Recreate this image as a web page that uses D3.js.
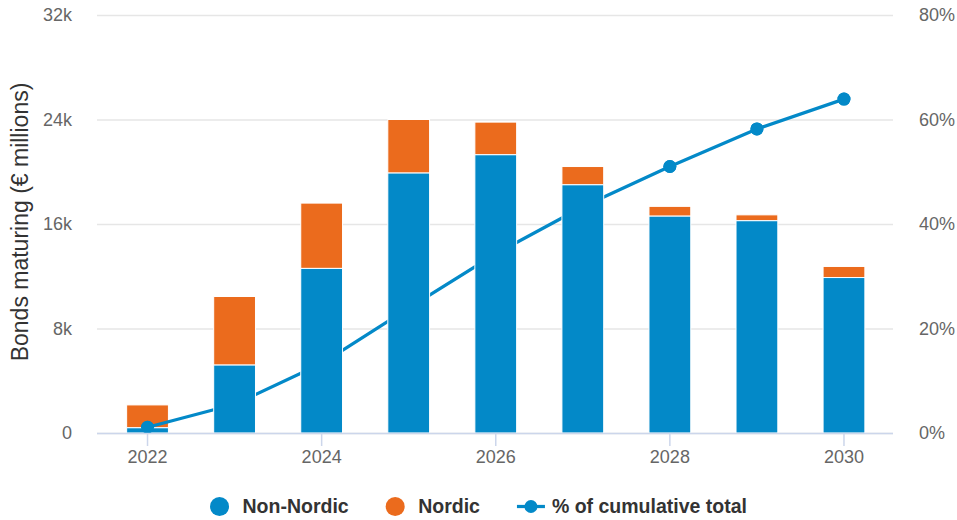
<!DOCTYPE html>
<html>
<head>
<meta charset="utf-8">
<script src="https://cdn.jsdelivr.net/npm/d3@7"></script>
<style>
  body { margin: 0; background: #fff; }
  text { font-family: "Liberation Sans", Arial, sans-serif; }
</style>
</head>
<body>
<div id="container"></div>
<script>
/* DATA */
const years = ["2022", "2023", "2024", "2025", "2026", "2027", "2028", "2029", "2030"];
// € millions
const nonNordic = [400, 5200, 12600, 19900, 21300, 19000, 16600, 16250, 11900];
const nordic = [1750, 5250, 5000, 4100, 2500, 1400, 750, 450, 850];
// % of cumulative total
const cumulativePct = [1.1, 5.5, 13.3, 23.9, 34.3, 43.3, 51.0, 58.2, 63.9];
const leftTicks = [0, 8000, 16000, 24000, 32000];
const rightTicks = [0, 20, 40, 60, 80];
const xTickYears = ["2022", "2024", "2026", "2028", "2030"];
const seriesNames = ["Non-Nordic", "Nordic", "% of cumulative total"];

/* CONSTANTS */
const width = 957;
const height = 520;
const plotLeft = 97, plotRight = 893, plotTop = 15, plotBottom = 433;
const blue = "#0389c8";
const orange = "#eb6b1d";

const svg = d3.select("#container")
  .append("svg")
  .attr("width", width)
  .attr("height", height)

const table = years.map((y, i) => ({ year: y, nonNordic: nonNordic[i], nordic: nordic[i], pct: cumulativePct[i] }))
const stacked = d3.stack().keys(["nonNordic", "nordic"])(table)

/* SCALES */
const xScale = d3.scaleBand()
  .domain(years)
  .range([104, 887.5])
  .paddingInner(0.52)
  .paddingOuter(0.26)

const yScale = d3.scaleLinear()
  .domain([0, 32000])
  .range([plotBottom, plotTop])

const yRight = d3.scaleLinear()
  .domain([0, 80])
  .range([plotBottom, plotTop])

const cx = d => xScale(d) + xScale.bandwidth() / 2

/* GRIDLINES + LEFT AXIS */
const leftAxis = svg.append("g")
  .attr("transform", `translate(${plotLeft},0)`)
  .call(d3.axisLeft(yScale)
    .tickValues(leftTicks)
    .tickSize(-(plotRight - plotLeft))
    .tickPadding(25)
    .tickFormat(d => d === 0 ? "0" : (d / 1000) + "k"))
leftAxis.select(".domain").remove()
leftAxis.selectAll("line").attr("stroke", "#e6e6e6").attr("stroke-width", 1.5)
leftAxis.selectAll("text").attr("fill", "#666").attr("font-size", 18).attr("font-family", "Liberation Sans, Arial, sans-serif")

const rightAxis = svg.append("g")
  .attr("transform", `translate(${plotRight},0)`)
  .call(d3.axisRight(yRight)
    .tickValues(rightTicks)
    .tickSize(0)
    .tickPadding(26)
    .tickFormat(d => d + "%"))
rightAxis.select(".domain").remove()
rightAxis.selectAll("text").attr("fill", "#666").attr("font-size", 18).attr("font-family", "Liberation Sans, Arial, sans-serif")

/* BOTTOM AXIS */
const xAxis = svg.append("g")
  .attr("transform", `translate(0,${plotBottom})`)
  .call(d3.axisBottom(xScale).tickValues(xTickYears).tickSize(13).tickPadding(4))
xAxis.select(".domain").remove()
xAxis.selectAll("line").attr("stroke", "#ccd6eb").attr("stroke-width", 1.5)
xAxis.selectAll("text").attr("fill", "#666").attr("font-size", 18).attr("font-family", "Liberation Sans, Arial, sans-serif")

/* NORDIC BARS (behind the line) */
const nordicLayer = stacked.find(s => s.key === "nordic")
const nonNordicLayer = stacked.find(s => s.key === "nonNordic")

svg.append("g").selectAll("rect")
  .data(nordicLayer)
  .join("rect")
  .attr("x", d => xScale(d.data.year))
  .attr("y", d => yScale(d[1]))
  .attr("width", xScale.bandwidth())
  .attr("height", d => yScale(d[0]) - yScale(d[1]))
  .attr("fill", orange)
  .attr("stroke", "#fff")
  .attr("stroke-width", 1)

/* LINE */
const line = d3.line()
  .x(d => cx(d.year))
  .y(d => yRight(d.pct))

svg.append("path")
  .datum(table)
  .attr("d", line)
  .attr("fill", "none")
  .attr("stroke", blue)
  .attr("stroke-width", 3.25)
  .attr("stroke-linejoin", "round")

svg.append("g").selectAll("circle")
  .data(table)
  .join("circle")
  .attr("cx", d => cx(d.year))
  .attr("cy", d => yRight(d.pct))
  .attr("r", 6.5)
  .attr("fill", blue)

/* NON-NORDIC BARS (over the line) */
svg.append("g").selectAll("rect")
  .data(nonNordicLayer)
  .join("rect")
  .attr("x", d => xScale(d.data.year))
  .attr("y", d => yScale(d[1]))
  .attr("width", xScale.bandwidth())
  .attr("height", d => yScale(d[0]) - yScale(d[1]))
  .attr("fill", blue)
  .attr("stroke", "#fff")
  .attr("stroke-width", 1)

// markers sitting above the blue bar stay in front
svg.append("g").selectAll("circle")
  .data(table.filter(d => yRight(d.pct) <= yScale(d.nonNordic)))
  .join("circle")
  .attr("cx", d => cx(d.year))
  .attr("cy", d => yRight(d.pct))
  .attr("r", 6.5)
  .attr("fill", blue)

// axis line
svg.append("line")
  .attr("x1", plotLeft).attr("x2", plotRight)
  .attr("y1", plotBottom + 0.5).attr("y2", plotBottom + 0.5)
  .attr("stroke", "#ccd6eb")
  .attr("stroke-width", 1.5)

/* Y TITLE */
svg.append("text")
  .attr("transform", "translate(27.5,222) rotate(-90)")
  .attr("text-anchor", "middle")
  .attr("font-size", 23)
  .attr("fill", "#333")
  .text("Bonds maturing (€ millions)")

/* LEGEND */
const legend = svg.append("g")
const legendY = 506.5
const items = [
  { name: seriesNames[0], type: "circle", color: blue },
  { name: seriesNames[1], type: "circle", color: orange },
  { name: seriesNames[2], type: "line", color: blue }
]
let lx = 0
items.forEach((it, i) => {
  const g = legend.append("g")
  let textX
  if (it.type === "circle") {
    g.append("circle").attr("cx", lx + 9.5).attr("cy", legendY).attr("r", 9.5).attr("fill", it.color)
    textX = lx + 32.5
  } else {
    g.append("line").attr("x1", lx).attr("x2", lx + 28).attr("y1", legendY).attr("y2", legendY)
      .attr("stroke", it.color).attr("stroke-width", 3.25)
    g.append("circle").attr("cx", lx + 14).attr("cy", legendY).attr("r", 6.5).attr("fill", it.color)
    textX = lx + 35
  }
  const t = g.append("text")
    .attr("x", textX)
    .attr("y", legendY + 6.8)
    .attr("font-size", 19.5)
    .attr("font-weight", "bold")
    .attr("fill", "#333")
    .text(it.name)
  lx = textX + t.node().getComputedTextLength() + 37
})
const bb = legend.node().getBBox()
legend.attr("transform", `translate(${width / 2 - bb.width / 2 - bb.x},0)`)
</script>
</body>
</html>
